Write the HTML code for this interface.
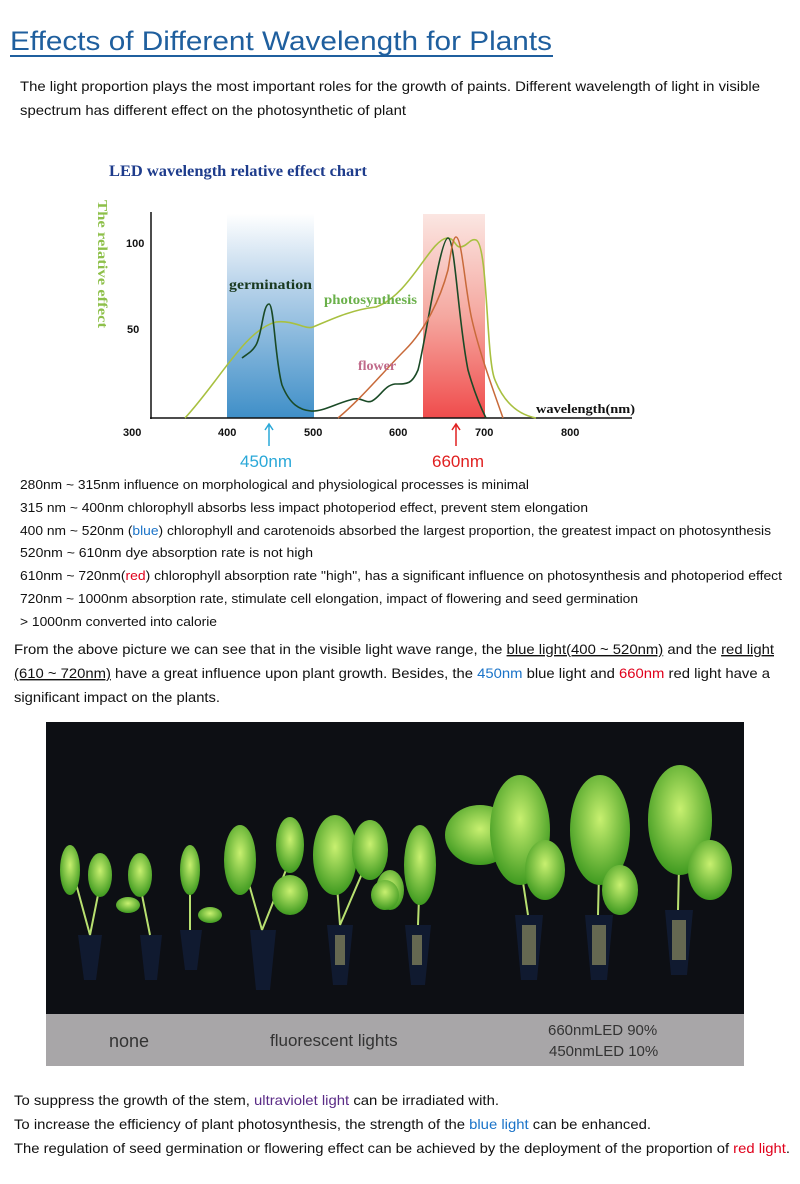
<!DOCTYPE html>
<html><head><meta charset="utf-8"><style>
body{margin:0;background:#fff}
svg{display:block}
text{font-family:"Liberation Sans",Arial,sans-serif}
.s{font-family:"Liberation Serif",serif;font-weight:bold}
</style></head><body>
<svg width="800" height="1184" viewBox="0 0 800 1184" xmlns="http://www.w3.org/2000/svg">
<defs>
<linearGradient id="bl" x1="0" y1="0" x2="0" y2="1"><stop offset="0" stop-color="#fff"/><stop offset="0.35" stop-color="#b8d3ea"/><stop offset="1" stop-color="#3f8fc8"/></linearGradient>
<linearGradient id="rd" x1="0" y1="0" x2="0" y2="1"><stop offset="0" stop-color="#fbe6e2"/><stop offset="0.5" stop-color="#f5a8a0"/><stop offset="1" stop-color="#f04c4c"/></linearGradient>
<radialGradient id="lf" cx="0.5" cy="0.4" r="0.6"><stop offset="0" stop-color="#c8f070"/><stop offset="1" stop-color="#3f9a20"/></radialGradient>
</defs>
<text x="10" y="50" font-size="27" fill="#1f5f9e" textLength="542" lengthAdjust="spacingAndGlyphs">Effects of Different Wavelength for Plants</text>
<rect x="10" y="55" width="543" height="2" fill="#1f5f9e"/>
<g font-size="14" fill="#111">
<text x="20" y="91" textLength="740" lengthAdjust="spacingAndGlyphs">The light proportion plays the most important roles for the growth of paints. Different wavelength of light in visible</text>
<text x="20" y="115" textLength="386" lengthAdjust="spacingAndGlyphs">spectrum has different effect on the photosynthetic of plant</text>
</g>
<text class="s" x="109" y="176" font-size="16" fill="#1e3c8c" textLength="258" lengthAdjust="spacingAndGlyphs">LED wavelength relative effect chart</text>
<text class="s" transform="translate(98,200) rotate(90)" font-size="14" fill="#8ec04a" textLength="128" lengthAdjust="spacingAndGlyphs">The relative effect</text>
<rect x="227" y="214" width="87" height="204" fill="url(#bl)"/>
<rect x="423" y="214" width="62" height="204" fill="url(#rd)"/>
<line x1="151" y1="212" x2="151" y2="419" stroke="#111" stroke-width="1.5"/>
<line x1="150" y1="418" x2="632" y2="418" stroke="#111" stroke-width="1.5"/>
<g font-size="11" font-weight="bold" fill="#111">
<text x="126" y="247">100</text><text x="127" y="333">50</text>
<text x="123" y="436">300</text><text x="218" y="436">400</text><text x="304" y="436">500</text>
<text x="389" y="436">600</text><text x="475" y="436">700</text><text x="561" y="436">800</text>
</g>
<path d="M185,418 C220,380 245,330 276,322 C295,320 305,330 313,327 C330,320 350,310 376,307 C410,295 430,240 447,238 C455,238 455,247 460,247 C467,247 470,238 476,240 C488,244 486,360 495,380 C505,405 520,415 536,418" fill="none" stroke="#a8c040" stroke-width="1.6"/>
<path d="M242,358 C247,354 252,352 256,345 C262,335 263,304 269,304 C274,304 275,360 282,385 C290,405 300,410 311,411 C322,412 335,404 350,400 C362,396 365,404 372,401 C380,397 385,385 395,384 C408,384 412,384 418,370 C425,345 440,238 448,238 C455,238 458,320 468,370 C475,395 482,410 486,418" fill="none" stroke="#1a4a26" stroke-width="1.6"/>
<path d="M338,418 C360,400 385,370 405,350 C425,330 440,300 448,270 C451,252 453,237 456,237 C462,237 465,290 472,320 C480,355 495,395 503,418" fill="none" stroke="#c86a3a" stroke-width="1.5"/>
<text class="s" x="229" y="289" font-size="14" fill="#1a3a20" textLength="83" lengthAdjust="spacingAndGlyphs">germination</text>
<text class="s" x="324" y="304" font-size="14" fill="#6ab04a" textLength="93" lengthAdjust="spacingAndGlyphs">photosynthesis</text>
<text class="s" x="358" y="370" font-size="14" fill="#c06a8a">flower</text>
<text class="s" x="536" y="413" font-size="13" fill="#111" textLength="99" lengthAdjust="spacingAndGlyphs">wavelength(nm)</text>
<g stroke-width="1.5" fill="none">
<path d="M269,446 V425 M265,430 L269,424 L273,430" stroke="#2aa8d8"/>
<path d="M456,446 V425 M452,430 L456,424 L460,430" stroke="#e02020"/>
</g>
<text x="240" y="467" font-size="17" fill="#2aa8d8">450nm</text>
<text x="432" y="467" font-size="17" fill="#e02020">660nm</text>
<g font-size="13" fill="#111">
<text x="20" y="489" textLength="509" lengthAdjust="spacingAndGlyphs">280nm ~ 315nm influence on morphological and physiological processes is minimal</text>
<text x="20" y="512" textLength="568" lengthAdjust="spacingAndGlyphs">315 nm ~ 400nm chlorophyll absorbs less impact photoperiod effect, prevent stem elongation</text>
<text x="20" y="535" textLength="751" lengthAdjust="spacingAndGlyphs">400 nm ~ 520nm (<tspan fill="#1a73c8">blue</tspan>) chlorophyll and carotenoids absorbed the largest proportion, the greatest impact on photosynthesis</text>
<text x="20" y="557" textLength="293" lengthAdjust="spacingAndGlyphs">520nm  ~ 610nm dye absorption rate is not high</text>
<text x="20" y="580" textLength="762" lengthAdjust="spacingAndGlyphs">610nm ~ 720nm(<tspan fill="#e0001b">red</tspan>) chlorophyll absorption rate "high", has a significant influence on photosynthesis and photoperiod effect</text>
<text x="20" y="603" textLength="618" lengthAdjust="spacingAndGlyphs">720nm ~ 1000nm absorption rate, stimulate cell elongation, impact of flowering and seed germination</text>
<text x="20" y="626" textLength="197" lengthAdjust="spacingAndGlyphs"> &gt; 1000nm converted into calorie</text>
</g>
<g font-size="14" fill="#111">
<text x="14" y="654" textLength="760" lengthAdjust="spacingAndGlyphs">From the above picture we can see that in the visible light wave range, the <tspan text-decoration="underline">blue light(400 ~ 520nm)</tspan> and the <tspan text-decoration="underline">red light</tspan></text>
<text x="14" y="678" textLength="756" lengthAdjust="spacingAndGlyphs"><tspan text-decoration="underline">(610 ~ 720nm)</tspan> have a great influence upon plant growth. Besides, the <tspan fill="#1a73c8">450nm</tspan> blue light and <tspan fill="#e0001b">660nm</tspan> red light have a</text>
<text x="14" y="702" textLength="206" lengthAdjust="spacingAndGlyphs">significant impact on the plants.</text>
</g>
<rect x="46" y="722" width="698" height="344" fill="#0d0f14"/>
<rect x="46" y="1014" width="698" height="52" fill="#a8a6a8"/>
<g fill="#101a30">
<path d="M78,935 h24 l-6,45 h-12z"/><path d="M140,935 h22 l-5,45 h-12z"/><path d="M180,930 h22 l-5,40 h-12z"/>
<path d="M250,930 h26 l-6,60 h-14z"/><path d="M327,925 h26 l-6,60 h-14z"/><path d="M405,925 h26 l-6,60 h-14z"/>
<path d="M515,915 h28 l-6,65 h-16z"/><path d="M585,915 h28 l-6,65 h-16z"/><path d="M665,910 h28 l-6,65 h-16z"/>
</g>
<g fill="#8a8a60" opacity="0.7">
<rect x="335" y="935" width="10" height="30"/><rect x="412" y="935" width="10" height="30"/>
<rect x="522" y="925" width="14" height="40"/><rect x="592" y="925" width="14" height="40"/><rect x="672" y="920" width="14" height="40"/>
</g>
<g stroke="#b8e070" stroke-width="2" fill="none">
<path d="M90,935 L75,880 M90,935 L100,885 M150,935 L140,885 M190,930 L190,880 M262,930 L245,870 M262,930 L290,860 M340,925 L335,860 M340,925 L370,855 M418,925 L420,870 M528,915 L515,830 M598,915 L600,830 M678,910 L680,820"/>
</g>
<g fill="url(#lf)">
<ellipse cx="70" cy="870" rx="10" ry="25"/><ellipse cx="100" cy="875" rx="12" ry="22"/>
<ellipse cx="140" cy="875" rx="12" ry="22"/><ellipse cx="128" cy="905" rx="12" ry="8"/>
<ellipse cx="190" cy="870" rx="10" ry="25"/><ellipse cx="210" cy="915" rx="12" ry="8"/>
<ellipse cx="240" cy="860" rx="16" ry="35"/><ellipse cx="290" cy="895" rx="18" ry="20"/><ellipse cx="290" cy="845" rx="14" ry="28"/>
<ellipse cx="335" cy="855" rx="22" ry="40"/><ellipse cx="370" cy="850" rx="18" ry="30"/><ellipse cx="390" cy="890" rx="14" ry="20"/>
<ellipse cx="420" cy="865" rx="16" ry="40"/><ellipse cx="385" cy="895" rx="14" ry="15"/>
<ellipse cx="480" cy="835" rx="35" ry="30"/><ellipse cx="520" cy="830" rx="30" ry="55"/><ellipse cx="545" cy="870" rx="20" ry="30"/>
<ellipse cx="600" cy="830" rx="30" ry="55"/><ellipse cx="620" cy="890" rx="18" ry="25"/>
<ellipse cx="680" cy="820" rx="32" ry="55"/><ellipse cx="710" cy="870" rx="22" ry="30"/>
</g>
<g font-size="18" fill="#333">
<text x="109" y="1047">none</text>
<text x="270" y="1046" font-size="17">fluorescent lights</text>
<text x="548" y="1035" font-size="15">660nmLED  90%</text>
<text x="549" y="1056" font-size="15">450nmLED  10%</text>
</g>
<g font-size="14" fill="#111">
<text x="14" y="1105" textLength="485" lengthAdjust="spacingAndGlyphs">To suppress the growth of the stem, <tspan fill="#5a2a86">ultraviolet light</tspan> can be irradiated with.</text>
<text x="14" y="1129" textLength="637" lengthAdjust="spacingAndGlyphs">To increase the efficiency of plant photosynthesis, the strength of the <tspan fill="#1a73c8">blue light</tspan> can be enhanced.</text>
<text x="14" y="1153" textLength="776" lengthAdjust="spacingAndGlyphs">The regulation of seed germination or flowering effect can be achieved by the deployment of the proportion of <tspan fill="#e0001b">red light</tspan>.</text>
</g>
</svg>
</body></html>
